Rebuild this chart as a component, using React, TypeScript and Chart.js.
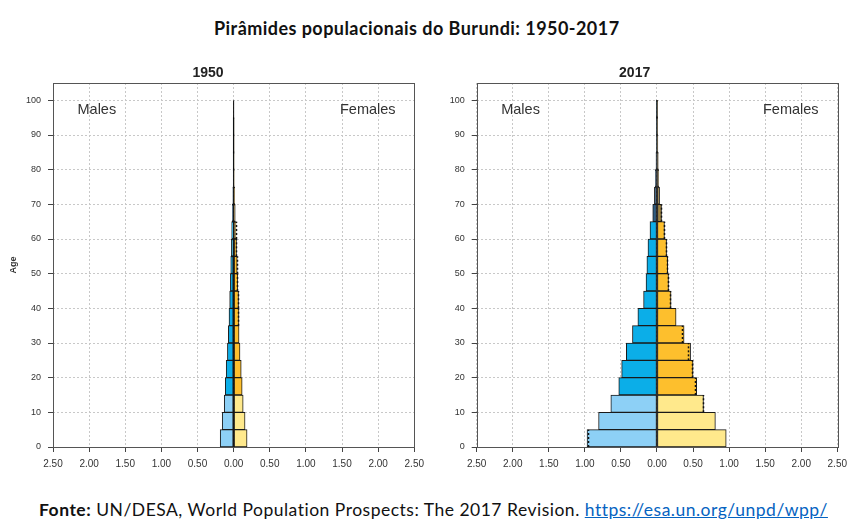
import React, { useEffect, useRef } from "react";
import { Chart, registerables } from "chart.js";

Chart.register(...registerables);

// ---- data (population in millions) ----
const ageGroups = [
  "0-4", "5-9", "10-14", "15-19", "20-24", "25-29", "30-34", "35-39", "40-44", "45-49",
  "50-54", "55-59", "60-64", "65-69", "70-74", "75-79", "80-84", "85-89", "90-94", "95-99", "100+",
];
const ageStarts = [0, 5, 10, 15, 20, 25, 30, 35, 40, 45, 50, 55, 60, 65, 70, 75, 80, 85, 90, 95, 100];

const male1950 = [0.186, 0.158, 0.13, 0.116, 0.103, 0.086, 0.073, 0.064, 0.055, 0.045, 0.04, 0.032, 0.027, 0.018, 0.012, 0.007, 0.003, 0.001, 0.0003, 0, 0];
const female1950 = [0.186, 0.158, 0.132, 0.118, 0.105, 0.088, 0.075, 0.074, 0.068, 0.058, 0.05, 0.04, 0.033, 0.022, 0.015, 0.008, 0.004, 0.0015, 0.0004, 0, 0];

const male2017 = [0.97, 0.81, 0.64, 0.53, 0.49, 0.425, 0.34, 0.265, 0.186, 0.152, 0.14, 0.125, 0.097, 0.059, 0.036, 0.023, 0.014, 0.008, 0.003, 0.001, 0];
const female2017 = [0.96, 0.81, 0.645, 0.55, 0.5, 0.466, 0.376, 0.265, 0.195, 0.16, 0.148, 0.133, 0.104, 0.063, 0.036, 0.023, 0.018, 0.012, 0.005, 0.001, 0];

const xTickValues = [-2.5, -2, -1.5, -1, -0.5, 0, 0.5, 1, 1.5, 2, 2.5];
const yTickValues = [0, 10, 20, 30, 40, 50, 60, 70, 80, 90, 100];
const zeroLineAges = [0, 100];

const maleColors = { young: "#8DD0F6", adult: "#0BAEE8", old: "#2F5C80" };
const femaleColors = { young: "#FFE98C", adult: "#FDBF2D", old: "#A08543" };

const FONT = '"Liberation Sans", Arial, sans-serif';

function colorFor(start: number, c: { young: string; adult: string; old: string }) {
  if (start < 15) return c.young;
  if (start < 65) return c.adult;
  return c.old;
}

const boxPlugin = {
  id: "box",
  afterDraw(chart: any) {
    const { ctx, chartArea } = chart;
    const { left, top, right, bottom } = chartArea;
    ctx.save();
    ctx.setLineDash([]);
    ctx.strokeStyle = "#555";
    ctx.lineWidth = 1;
    ctx.strokeRect(Math.round(left) + 0.5, Math.round(top) + 0.5, Math.round(right - left), Math.round(bottom - top));
    ctx.restore();
  },
};

const sexLabelPlugin = {
  id: "sexLabels",
  afterDraw(chart: any) {
    const { ctx, chartArea } = chart;
    ctx.save();
    ctx.font = `14.5px ${FONT}`;
    ctx.fillStyle = "#333";
    ctx.textBaseline = "middle";
    ctx.textAlign = "left";
    ctx.fillText("Males", chartArea.left + 24.5, chartArea.top + 27);
    ctx.textAlign = "right";
    ctx.fillText("Females", chartArea.right - 18.7, chartArea.top + 27);
    ctx.restore();
  },
};

const dottedPlugin = {
  id: "dotted",
  afterDatasetsDraw(chart: any, _args: any, opts: any) {
    const males: number[] = opts.males;
    const females: number[] = opts.females;
    if (!males) return;
    const { ctx, scales } = chart;
    const xs = scales.x;
    const ys = scales.y;
    ctx.save();
    ctx.strokeStyle = "#111";
    ctx.lineWidth = 1.5;
    ctx.setLineDash([2, 2]);
    males.forEach((m, i) => {
      const f = females[i];
      if (Math.abs(m - f) < 0.004 || Math.min(m, f) < 0.02) return;
      const xv = m > f ? -f : m;
      const px = Math.round(xs.getPixelForValue(xv)) + 0.5;
      ctx.beginPath();
      ctx.moveTo(px, ys.getPixelForValue(ageStarts[i]));
      ctx.lineTo(px, ys.getPixelForValue(ageStarts[i] + 5));
      ctx.stroke();
    });
    ctx.restore();
  },
};

function makeConfig(year: string, males: number[], females: number[], showAge: boolean, yWidth: number, rightPad: number): any {
  return {
    type: "bar",
    data: {
      datasets: [
        {
          type: "line",
          data: zeroLineAges.map((a) => ({ x: 0, y: a })),
          borderColor: "#000",
          borderWidth: 1,
          pointRadius: 0,
          order: 0,
        },
        {
          label: "Males",
          data: males.map((v, i) => ({ x: -v, y: ageStarts[i] + 2.5 })),
          backgroundColor: ageStarts.map((s) => colorFor(s, maleColors)),
          borderColor: "#1a1a1a",
          borderWidth: 1,
          borderSkipped: false,
          grouped: false,
          barPercentage: 1,
          categoryPercentage: 1,
          order: 1,
        },
        {
          label: "Females",
          data: females.map((v, i) => ({ x: v, y: ageStarts[i] + 2.5 })),
          backgroundColor: ageStarts.map((s) => colorFor(s, femaleColors)),
          borderColor: "#1a1a1a",
          borderWidth: 1,
          borderSkipped: false,
          grouped: false,
          barPercentage: 1,
          categoryPercentage: 1,
          order: 1,
        },
      ],
    },
    options: {
      indexAxis: "y",
      animation: false,
      responsive: false,
      maintainAspectRatio: false,
      devicePixelRatio: 1,
      layout: { padding: { top: 0, right: rightPad, bottom: 0, left: 0 } },
      plugins: {
        legend: { display: false },
        tooltip: { enabled: false },
        title: {
          display: true,
          text: year,
          color: "#222",
          font: { family: FONT, size: 14, weight: "bold" },
          padding: { top: 15, bottom: 1.2 },
        },
        dotted: { males, females },
      },
      scales: {
        x: {
          type: "linear",
          min: -2.5,
          max: 2.5,
          offset: false,
          afterBuildTicks: (scale: any) => {
            scale.ticks = xTickValues.map((v) => ({ value: v }));
          },
          afterFit: (scale: any) => {
            scale.height = 33;
          },
          ticks: {
            color: "#333",
            font: { family: FONT, size: 10 },
            padding: 6,
            maxRotation: 0,
            autoSkip: false,
            callback: (v: any) => Math.abs(Number(v)).toFixed(2),
          },
          grid: {
            color: "#c8c8c8",
            lineWidth: 1,
            offset: false,
            drawTicks: true,
            tickLength: 5,
            tickColor: "#444",
            tickBorderDash: [],
          },
          border: { display: false, dash: [2, 2] },
        },
        y: {
          type: "linear",
          min: 0,
          max: 105,
          offset: false,
          afterBuildTicks: (scale: any) => {
            scale.ticks = yTickValues.map((v) => ({ value: v }));
          },
          afterFit: (scale: any) => {
            scale.width = yWidth;
          },
          ticks: {
            color: "#333",
            font: { family: FONT, size: 9 },
            padding: 7,
            autoSkip: false,
          },
          grid: {
            color: "#c8c8c8",
            lineWidth: 1,
            offset: false,
            drawTicks: true,
            tickLength: 5,
            tickColor: "#444",
            tickBorderDash: [],
          },
          border: { display: false, dash: [2, 2] },
          title: {
            display: showAge,
            text: "Age",
            color: "#333",
            font: { family: FONT, size: 9, weight: "bold" },
            padding: { top: 8, bottom: 0 },
          },
        },
      },
    },
    plugins: [boxPlugin, sexLabelPlugin, dottedPlugin],
  };
}

function Pyramid(props: { year: string; males: number[]; females: number[]; showAge: boolean; yWidth: number; rightPad: number; width: number; height: number }) {
  const ref = useRef<HTMLCanvasElement | null>(null);
  useEffect(() => {
    if (!ref.current) return;
    const chart = new Chart(ref.current, makeConfig(props.year, props.males, props.females, props.showAge, props.yWidth, props.rightPad));
    return () => chart.destroy();
  }, []);
  return <canvas ref={ref} width={props.width} height={props.height} style={{ display: "block", width: props.width, height: props.height }} />;
}

export default function App() {
  return (
    <div style={{ position: "fixed", left: 0, top: 0, width: 853, height: 527, background: "#fff", overflow: "hidden" }}>
      <div
        style={{
          position: "absolute",
          left: 214,
          top: 18,
          fontFamily: "Lato, sans-serif",
          fontWeight: 700,
          fontSize: 18,
          letterSpacing: "0.45px",
          lineHeight: "20px",
          whiteSpace: "nowrap",
          color: "#111",
        }}
      >
        Pirâmides populacionais do Burundi: 1950-2017
      </div>
      <div style={{ position: "absolute", left: 0, top: 50 }}>
        <Pyramid year="1950" males={male1950} females={female1950} showAge={true} yWidth={53} rightPad={14} width={430} height={430} />
      </div>
      <div style={{ position: "absolute", left: 430, top: 50 }}>
        <Pyramid year="2017" males={male2017} females={female2017} showAge={false} yWidth={46.7} rightPad={13.7} width={423} height={430} />
      </div>
      <div
        style={{
          position: "absolute",
          left: 39,
          top: 500,
          fontFamily: "Lato, sans-serif",
          fontSize: 17.5,
          letterSpacing: "0.5px",
          lineHeight: "20px",
          whiteSpace: "nowrap",
          color: "#111",
        }}
      >
        <b>Fonte:</b> UN/DESA, World Population Prospects: The 2017 Revision.{" "}
        <span style={{ color: "#0563C1", textDecoration: "underline" }}>https://esa.un.org/unpd/wpp/</span>
      </div>
    </div>
  );
}
